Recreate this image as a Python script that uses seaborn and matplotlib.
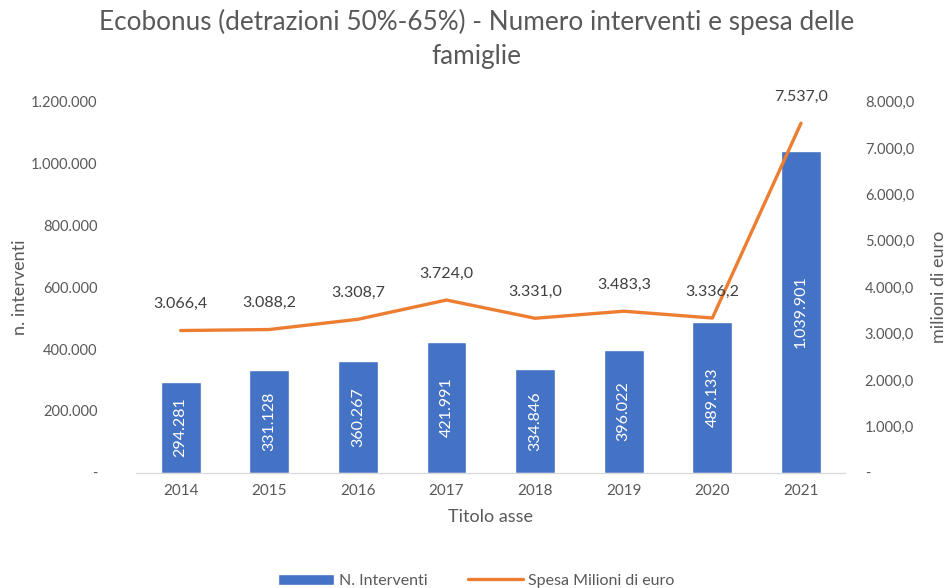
import matplotlib
matplotlib.use("Agg")
import matplotlib.pyplot as plt
from matplotlib.ticker import FuncFormatter
from matplotlib.patches import Patch
from matplotlib.lines import Line2D
import seaborn as sns
import pandas as pd
import numpy as np

years = ["2014", "2015", "2016", "2017", "2018", "2019", "2020", "2021"]
interventi = [294281, 331128, 360267, 421991, 334846, 396022, 489133, 1039901]
spesa = [3066.4, 3088.2, 3308.7, 3724.0, 3331.0, 3483.3, 3336.2, 7537.0]

sns.set_style("white")
plt.rcParams["font.family"] = ["Lato", "DejaVu Sans"]

grey = "#595959"
blue = "#4472C4"
orange = "#ED7D31"


def it_int(v, pos=None):
    if v == 0:
        return "-"
    return f"{v:,.0f}".replace(",", ".")


def it_dec(v, pos=None):
    if v == 0:
        return "-"
    s = f"{v:,.1f}"
    return s.replace(",", "X").replace(".", ",").replace("X", ".")


df = pd.DataFrame({"anno": years, "interventi": interventi, "spesa": spesa})

fig = plt.figure(figsize=(9.53, 5.88), dpi=100)
ax = fig.add_axes([0.143, 0.196, 0.744, 0.631])

sns.barplot(data=df, x="anno", y="interventi", color=blue, width=0.45,
            saturation=1, ax=ax)
ax.set_ylim(0, 1200000)
ax.set_xlim(-0.5, len(years) - 0.5)
ax.yaxis.set_major_formatter(FuncFormatter(it_int))
ax.set_yticks(np.arange(0, 1200001, 200000))

for i, v in enumerate(interventi):
    ax.text(i, v / 2, it_int(v), rotation=90, ha="center", va="center",
            color="white", fontsize=11.5)

ax2 = ax.twinx()
sns.lineplot(x=np.arange(len(years)), y=spesa, color=orange, linewidth=2.4,
             ax=ax2)
ax2.set_ylim(0, 8000)
ax2.set_yticks(np.arange(0, 8001, 1000))
ax2.yaxis.set_major_formatter(FuncFormatter(it_dec))
for i, v in enumerate(spesa):
    ax2.annotate(it_dec(v), (i, v), xytext=(0, 14), textcoords="offset points",
                 ha="center", va="bottom", color="#404040", fontsize=11.5)

for a in (ax, ax2):
    for s in ["top", "left", "right"]:
        a.spines[s].set_visible(False)
    a.spines["bottom"].set_color("#d9d9d9")
    a.tick_params(axis="both", length=0, colors=grey, labelsize=10.5)

ax.tick_params(axis="y", pad=28)
ax2.tick_params(axis="y", pad=14)
ax.tick_params(axis="x", pad=8, labelsize=11)

ax.set_xlabel("Titolo asse", color=grey, fontsize=13, labelpad=8)
ax.set_ylabel("n. interventi", color=grey, fontsize=13, labelpad=2)
ax2.set_ylabel("milioni di euro", color=grey, fontsize=13, labelpad=12)

fig.suptitle("Ecobonus (detrazioni 50%-65%) - Numero interventi e spesa delle\nfamiglie",
             color=grey, fontsize=18.8, y=0.985, linespacing=1.45)

handles = [Patch(facecolor=blue, label="N. Interventi"),
           Line2D([0], [0], color=orange, lw=2.4, label="Spesa Milioni di euro")]
fig.legend(handles=handles, loc="center", bbox_to_anchor=(0.5, 0.012), ncol=2,
           frameon=False, fontsize=11.5, labelcolor=grey, handlelength=3.5,
           columnspacing=2.5, handletextpad=0.3)

fig.savefig("out.png", dpi=100)
